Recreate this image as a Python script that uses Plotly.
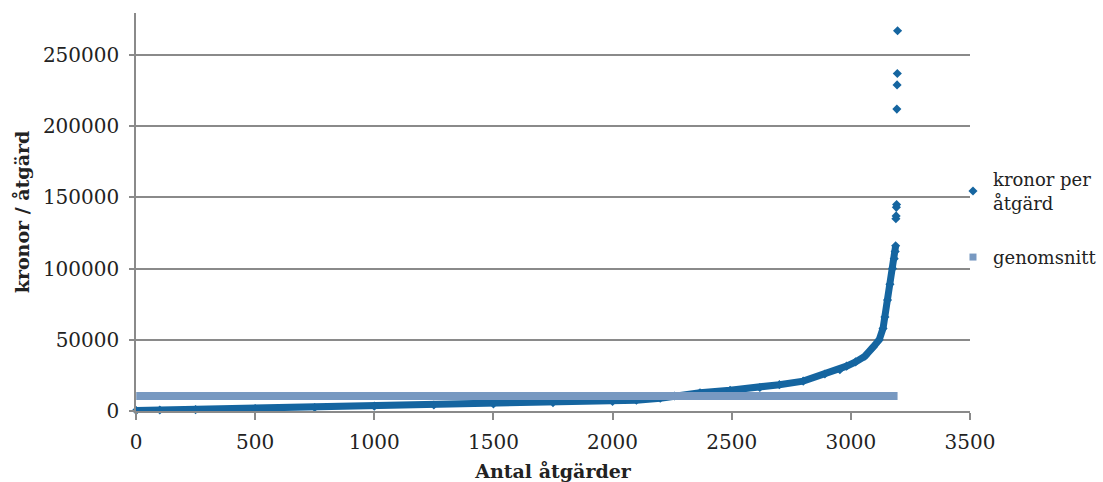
import plotly.graph_objects as go

# Åtgärder sorterade efter kostnad: löpnummer och kronor per åtgärd
atgard_nr = [1, 100, 250, 500, 750, 1000, 1250, 1500, 1750, 2000, 2100, 2200, 2260,
             2367, 2493, 2618, 2700, 2800, 2891, 2954, 2982, 3020, 3059, 3094, 3119,
             3135, 3143, 3154, 3164, 3175, 3182, 3186, 3188,
             3189, 3190, 3191, 3192, 3193, 3194, 3195, 3196]
kronor = [300, 650, 1000, 1700, 2500, 3400, 4200, 5000, 5900, 6700, 7600, 9000, 10500,
          12800, 14600, 16500, 18500, 21000, 26000, 29000, 31500, 34500, 38500, 45000, 50000,
          58000, 66000, 78000, 89000, 100000, 107000, 112000, 116000,
          135000, 137000, 143000, 145000, 212000, 229000, 237000, 267000]

# Genomsnittlig kostnad per åtgärd
genomsnitt = 10600
antal = atgard_nr[-1]

# Värden över denna gräns ritas som fristående punkter
enstaka_grans = 120000

MORK = "#1565A0"
LJUS = "#7899C1"
FONT = "DejaVu Serif"
GRA = "#8A8A8A"
TEXT = "#222222"

kurva_x = [x for x, y in zip(atgard_nr, kronor) if y < enstaka_grans]
kurva_y = [y for y in kronor if y < enstaka_grans]

fig = go.Figure()

# Tät punktsvärm ritad som ett sammanhängande band
fig.add_trace(go.Scatter(
    x=kurva_x, y=kurva_y, mode="lines",
    line=dict(color=MORK, width=7),
    showlegend=False, legendgroup="kr", hoverinfo="skip", cliponaxis=False,
))
fig.add_trace(go.Scatter(
    x=atgard_nr, y=kronor, mode="markers",
    marker=dict(symbol="diamond", size=7, color=MORK),
    name="kronor per<br>åtgärd", legendgroup="kr", cliponaxis=False,
))

# Genomsnittslinjen
fig.add_trace(go.Scatter(
    x=[1, antal], y=[genomsnitt, genomsnitt], mode="lines",
    line=dict(color=LJUS, width=8),
    showlegend=False, legendgroup="snitt", cliponaxis=False,
))
fig.add_trace(go.Scatter(
    x=[None], y=[None], mode="markers",
    marker=dict(symbol="square", size=7, color=LJUS),
    name="genomsnitt", legendgroup="snitt",
))

fig.update_layout(
    width=1103, height=482,
    margin=dict(l=136, r=133, t=13, b=71, autoexpand=False),
    paper_bgcolor="white", plot_bgcolor="white",
    font=dict(family=FONT, size=18, color=TEXT),
    showlegend=True,
    legend=dict(
        x=0.9796, xanchor="left", y=0.628, yanchor="top",
        font=dict(family=FONT, size=18, color=TEXT),
        traceorder="grouped", tracegroupgap=28,
        bgcolor="rgba(0,0,0,0)",
    ),
    xaxis=dict(
        range=[0, 3500], dtick=500, tick0=0,
        showgrid=False, zeroline=False,
        showline=True, linecolor=GRA, linewidth=1.5,
        ticks="outside", ticklen=7, tickcolor=GRA, tickwidth=1.5,
        ticklabelstandoff=5,
        tickfont=dict(family=FONT, size=20, color=TEXT),
        title=dict(text="<b>Antal åtgärder</b>", standoff=12,
                   font=dict(family=FONT, size=19, color=TEXT)),
    ),
    yaxis=dict(
        range=[0, 279500], dtick=50000, tick0=0,
        tickformat="d", exponentformat="none",
        showgrid=True, gridcolor=GRA, gridwidth=1.5,
        zeroline=False,
        showline=True, linecolor=GRA, linewidth=1.5,
        ticks="outside", ticklen=5, tickcolor=GRA, tickwidth=1.5,
        ticklabelstandoff=6,
        tickfont=dict(family=FONT, size=20, color=TEXT),
        title=dict(text="<b>kronor / åtgärd</b>", standoff=8,
                   font=dict(family=FONT, size=19, color=TEXT)),
    ),
)

fig.write_html("out.html")
